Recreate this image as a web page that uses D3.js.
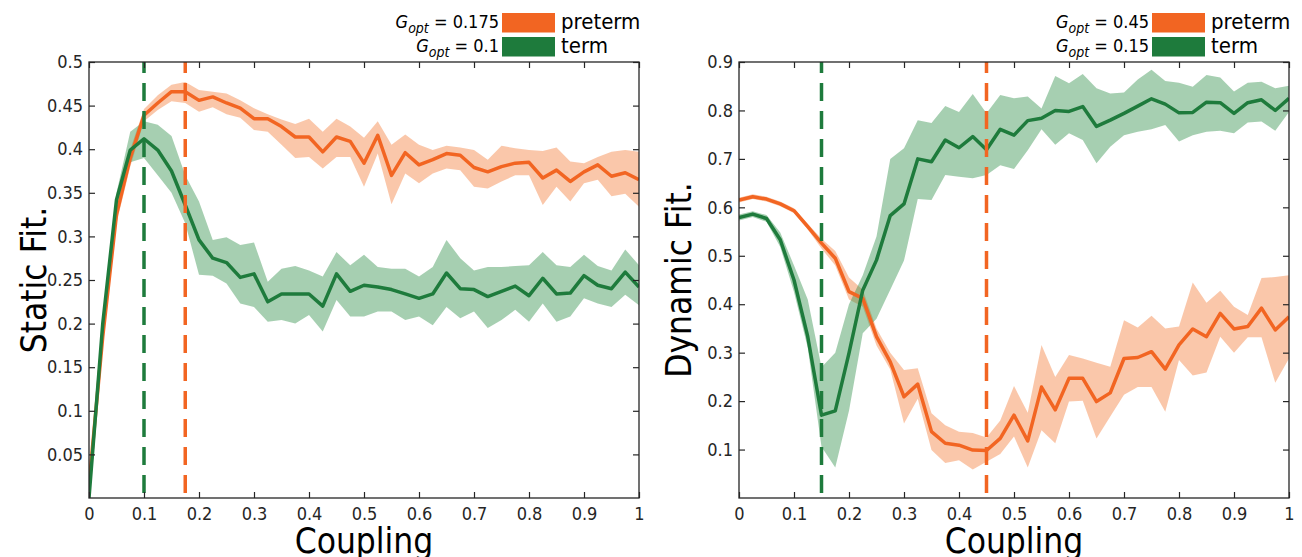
<!DOCTYPE html>
<html>
<head>
<meta charset="utf-8">
<script src="https://cdn.jsdelivr.net/npm/d3@7"></script>
<style>
    html, body { margin: 0; padding: 0; background: #fff; }
    svg { display: block; font-family: "DejaVu Sans Condensed", "DejaVu Sans", sans-serif; }
</style>
</head>
<body>
<div id="chart"></div>
<script>
// coupling grid shared by both panels
const coupling = [0, 0.025, 0.05, 0.075, 0.1, 0.125, 0.15, 0.175, 0.2, 0.225, 0.25, 0.275, 0.3, 0.325, 0.35, 0.375,
    0.4, 0.425, 0.45, 0.475, 0.5, 0.525, 0.55, 0.575, 0.6, 0.625, 0.65, 0.675, 0.7, 0.725, 0.75, 0.775,
    0.8, 0.825, 0.85, 0.875, 0.9, 0.925, 0.95, 0.975, 1];

const xTicks = [0, 0.1, 0.2, 0.3, 0.4, 0.5, 0.6, 0.7, 0.8, 0.9, 1];
const staticTicks = [0.05, 0.1, 0.15, 0.2, 0.25, 0.3, 0.35, 0.4, 0.45, 0.5];
const dynamicTicks = [0.1, 0.2, 0.3, 0.4, 0.5, 0.6, 0.7, 0.8, 0.9];

// Static Fit. panel
const staticPretermMean = [0.015, 0.185, 0.325, 0.39, 0.439, 0.453, 0.466, 0.466, 0.456, 0.46, 0.453, 0.447, 0.435, 0.435, 0.426, 0.414,
    0.414, 0.397, 0.414, 0.409, 0.384, 0.416, 0.37, 0.396, 0.382, 0.388, 0.395, 0.393, 0.379, 0.374, 0.38, 0.384,
    0.385, 0.367, 0.376, 0.363, 0.374, 0.382, 0.369, 0.373, 0.365];
const staticPretermUpper = [0.017, 0.19, 0.335, 0.4, 0.446, 0.462, 0.474, 0.477, 0.468, 0.466, 0.464, 0.456, 0.447, 0.44, 0.434, 0.429,
    0.435, 0.42, 0.435, 0.426, 0.413, 0.432, 0.405, 0.417, 0.405, 0.399, 0.404, 0.402, 0.399, 0.388, 0.404, 0.401,
    0.399, 0.398, 0.402, 0.386, 0.384, 0.391, 0.397, 0.399, 0.397];
const staticPretermLower = [0.013, 0.18, 0.315, 0.38, 0.432, 0.445, 0.455, 0.453, 0.443, 0.448, 0.44, 0.436, 0.422, 0.42, 0.405, 0.39,
    0.391, 0.378, 0.391, 0.391, 0.357, 0.395, 0.337, 0.372, 0.361, 0.372, 0.378, 0.376, 0.357, 0.355, 0.363, 0.37,
    0.37, 0.336, 0.357, 0.34, 0.361, 0.365, 0.346, 0.349, 0.334];
const staticTermMean = [0, 0.2, 0.342, 0.399, 0.412, 0.399, 0.375, 0.336, 0.296, 0.275, 0.27, 0.253, 0.257, 0.225, 0.234, 0.234,
    0.234, 0.22, 0.257, 0.237, 0.244, 0.242, 0.239, 0.234, 0.229, 0.234, 0.258, 0.24, 0.239, 0.231, 0.237, 0.243,
    0.232, 0.252, 0.234, 0.235, 0.255, 0.244, 0.24, 0.259, 0.242];
const staticTermUpper = [0.002, 0.205, 0.35, 0.42, 0.432, 0.428, 0.415, 0.37, 0.34, 0.296, 0.299, 0.29, 0.293, 0.248, 0.263, 0.266,
    0.261, 0.254, 0.282, 0.267, 0.279, 0.265, 0.263, 0.263, 0.254, 0.265, 0.296, 0.275, 0.261, 0.265, 0.265, 0.266,
    0.267, 0.282, 0.267, 0.265, 0.279, 0.266, 0.261, 0.285, 0.267];
const staticTermLower = [0, 0.195, 0.335, 0.385, 0.39, 0.37, 0.35, 0.315, 0.256, 0.255, 0.246, 0.223, 0.219, 0.202, 0.204, 0.2,
    0.21, 0.191, 0.227, 0.208, 0.208, 0.214, 0.214, 0.204, 0.208, 0.198, 0.219, 0.206, 0.214, 0.195, 0.204, 0.216,
    0.202, 0.223, 0.202, 0.208, 0.229, 0.223, 0.219, 0.233, 0.221];

// Dynamic Fit. panel
const dynamicPretermMean = [0.615, 0.622, 0.617, 0.607, 0.593, 0.56, 0.526, 0.495, 0.426, 0.412, 0.333, 0.281, 0.209, 0.235, 0.137, 0.113,
    0.109, 0.099, 0.098, 0.123, 0.171, 0.118, 0.229, 0.182, 0.247, 0.247, 0.199, 0.217, 0.288, 0.29, 0.302, 0.266,
    0.316, 0.349, 0.333, 0.381, 0.349, 0.354, 0.392, 0.347, 0.374];
const dynamicPretermUpper = [0.62, 0.627, 0.622, 0.612, 0.598, 0.566, 0.535, 0.51, 0.455, 0.43, 0.35, 0.3, 0.264, 0.268, 0.175, 0.15,
    0.137, 0.134, 0.125, 0.16, 0.231, 0.176, 0.316, 0.25, 0.295, 0.288, 0.279, 0.271, 0.367, 0.352, 0.376, 0.35,
    0.354, 0.445, 0.403, 0.428, 0.395, 0.378, 0.454, 0.456, 0.46];
const dynamicPretermLower = [0.61, 0.617, 0.612, 0.602, 0.588, 0.554, 0.515, 0.48, 0.41, 0.395, 0.315, 0.265, 0.154, 0.205, 0.099, 0.072,
    0.078, 0.059, 0.075, 0.091, 0.127, 0.063, 0.14, 0.113, 0.199, 0.201, 0.123, 0.168, 0.213, 0.229, 0.229, 0.178,
    0.285, 0.253, 0.259, 0.333, 0.3, 0.332, 0.332, 0.238, 0.288];
const dynamicTermMean = [0.579, 0.586, 0.577, 0.533, 0.45, 0.333, 0.171, 0.18, 0.299, 0.429, 0.491, 0.583, 0.607, 0.7, 0.694, 0.739,
    0.723, 0.746, 0.719, 0.761, 0.749, 0.779, 0.784, 0.8, 0.798, 0.808, 0.767, 0.78, 0.794, 0.809, 0.824, 0.813,
    0.795, 0.796, 0.817, 0.816, 0.794, 0.816, 0.822, 0.8, 0.825];
const dynamicTermUpper = [0.585, 0.592, 0.584, 0.548, 0.48, 0.41, 0.27, 0.3, 0.4, 0.46, 0.54, 0.7, 0.722, 0.78, 0.774, 0.809,
    0.797, 0.834, 0.794, 0.832, 0.825, 0.829, 0.804, 0.871, 0.856, 0.875, 0.846, 0.835, 0.837, 0.864, 0.884, 0.861,
    0.857, 0.849, 0.873, 0.868, 0.839, 0.857, 0.859, 0.846, 0.851];
const dynamicTermLower = [0.573, 0.58, 0.57, 0.518, 0.425, 0.31, 0.106, 0.063, 0.18, 0.34, 0.37, 0.43, 0.49, 0.617, 0.615, 0.667,
    0.663, 0.66, 0.667, 0.687, 0.679, 0.718, 0.761, 0.729, 0.753, 0.739, 0.691, 0.725, 0.749, 0.756, 0.761, 0.77,
    0.736, 0.749, 0.756, 0.758, 0.753, 0.775, 0.777, 0.758, 0.797];

const groupNames = ["preterm", "term"];
const staticGopt = [0.175, 0.1];
const dynamicGopt = [0.45, 0.15];

(function () {
    "use strict";

    const width = 1302;
    const height = 557;
    const plotW = 550;
    const plotTop = 62;
    const plotBottom = 498;
    const ink = "#262626";
    const lineColor = { preterm: "#F26522", term: "#1E7B3C" };
    const bandColor = { preterm: "#F47A35", term: "#2C8C46" };

    const svg = d3.select("#chart")
        .append("svg")
        .attr("width", width)
        .attr("height", height);

    const panels = [
        {
            id: "static",
            left: 89,
            yMax: 0.5,
            yTicks: staticTicks,
            yLabel: "Static Fit.",
            yLabelX: 46,
            gopt: staticGopt,
            series: {
                preterm: { mean: staticPretermMean, upper: staticPretermUpper, lower: staticPretermLower },
                term: { mean: staticTermMean, upper: staticTermUpper, lower: staticTermLower }
            }
        },
        {
            id: "dynamic",
            left: 739,
            yMax: 0.9,
            yTicks: dynamicTicks,
            yLabel: "Dynamic Fit.",
            yLabelX: 691,
            gopt: dynamicGopt,
            series: {
                preterm: { mean: dynamicPretermMean, upper: dynamicPretermUpper, lower: dynamicPretermLower },
                term: { mean: dynamicTermMean, upper: dynamicTermUpper, lower: dynamicTermLower }
            }
        }
    ];

    const tickText = (d) => String(+d.toFixed(3));

    panels.forEach((p) => {
        const x = d3.scaleLinear().domain([0, 1]).range([p.left, p.left + plotW]);
        const y = d3.scaleLinear().domain([0, p.yMax]).range([plotBottom, plotTop]);
        const g = svg.append("g").attr("class", "panel-" + p.id);

        g.append("clipPath")
            .attr("id", "clip-" + p.id)
            .append("rect")
            .attr("x", p.left)
            .attr("y", plotTop)
            .attr("width", plotW)
            .attr("height", plotBottom - plotTop);

        const plot = g.append("g").attr("clip-path", `url(#clip-${p.id})`);

        // shaded spread first, then mean lines on top
        groupNames.forEach((name) => {
            const s = p.series[name];
            const area = d3.area()
                .x((d, i) => x(coupling[i]))
                .y0((d, i) => y(s.lower[i]))
                .y1((d, i) => y(s.upper[i]));
            plot.append("path")
                .datum(s.mean)
                .attr("d", area)
                .attr("fill", bandColor[name])
                .attr("fill-opacity", 0.42)
                .attr("stroke", "none");
        });

        groupNames.forEach((name) => {
            const s = p.series[name];
            const line = d3.line()
                .x((d, i) => x(coupling[i]))
                .y((d) => y(d));
            plot.append("path")
                .datum(s.mean)
                .attr("d", line)
                .attr("fill", "none")
                .attr("stroke", lineColor[name])
                .attr("stroke-width", 3.5)
                .attr("stroke-linejoin", "round");
        });

        // optimal coupling markers
        groupNames.slice().reverse().forEach((name) => {
            const gx = p.gopt[groupNames.indexOf(name)];
            g.append("line")
                .attr("x1", x(gx))
                .attr("x2", x(gx))
                .attr("y1", plotTop)
                .attr("y2", plotBottom)
                .attr("stroke", lineColor[name])
                .attr("stroke-width", 3.5)
                .attr("stroke-dasharray", "18,10")
                .attr("stroke-dashoffset", 7);
        });

        // axes, ticks pointing inward on all four sides
        const styleAxis = (sel) => {
            sel.select(".domain").remove();
            sel.selectAll(".tick line").attr("stroke", ink).attr("stroke-width", 1.2);
            sel.selectAll(".tick text")
                .attr("fill", ink)
                .attr("font-size", 18)
                .attr("font-family", "\"DejaVu Sans Condensed\", \"DejaVu Sans\", sans-serif");
        };

        g.append("g")
            .attr("transform", `translate(0,${plotBottom})`)
            .call(d3.axisBottom(x).tickValues(xTicks).tickSize(-6).tickPadding(9).tickFormat(tickText))
            .call(styleAxis);

        g.append("g")
            .attr("transform", `translate(0,${plotTop})`)
            .call(d3.axisTop(x).tickValues(xTicks).tickSize(-6).tickFormat(""))
            .call(styleAxis);

        g.append("g")
            .attr("transform", `translate(${p.left},0)`)
            .call(d3.axisLeft(y).tickValues(p.yTicks).tickSize(-6).tickPadding(6).tickFormat(tickText))
            .call(styleAxis);

        g.append("g")
            .attr("transform", `translate(${p.left + plotW},0)`)
            .call(d3.axisRight(y).tickValues(p.yTicks).tickSize(-6).tickFormat(""))
            .call(styleAxis);

        g.append("rect")
            .attr("x", p.left)
            .attr("y", plotTop)
            .attr("width", plotW)
            .attr("height", plotBottom - plotTop)
            .attr("fill", "none")
            .attr("stroke", ink)
            .attr("stroke-width", 1.3);

        g.append("text")
            .attr("x", p.left + plotW / 2)
            .attr("y", 553)
            .attr("text-anchor", "middle")
            .attr("font-size", 35)
            .attr("fill", "#000")
            .text("Coupling");

        g.append("text")
            .attr("transform", `translate(${p.yLabelX},${(plotTop + plotBottom) / 2}) rotate(-90)`)
            .attr("text-anchor", "middle")
            .attr("font-size", 35)
            .attr("fill", "#000")
            .text(p.yLabel);

        // legend above the top right corner
        const right = p.left + plotW;
        groupNames.forEach((name, i) => {
            const rowY = 13 + i * 24;
            g.append("rect")
                .attr("x", right - 137)
                .attr("y", rowY)
                .attr("width", 53)
                .attr("height", 19.5)
                .attr("fill", lineColor[name]);

            g.append("text")
                .attr("x", right - 78)
                .attr("y", rowY + 16)
                .attr("font-size", 22)
                .attr("fill", "#000")
                .text(name);

            const label = g.append("text")
                .attr("x", right - 140)
                .attr("y", rowY + 15)
                .attr("text-anchor", "end")
                .attr("font-size", 18)
                .attr("fill", "#000");
            label.append("tspan").attr("font-style", "italic").text("G");
            label.append("tspan")
                .attr("font-style", "italic")
                .attr("font-size", 14)
                .attr("dy", 5)
                .text("opt");
            label.append("tspan")
                .attr("dy", -5)
                .text(" = " + p.gopt[i]);
        });
    });
}());
</script>
</body>
</html>
